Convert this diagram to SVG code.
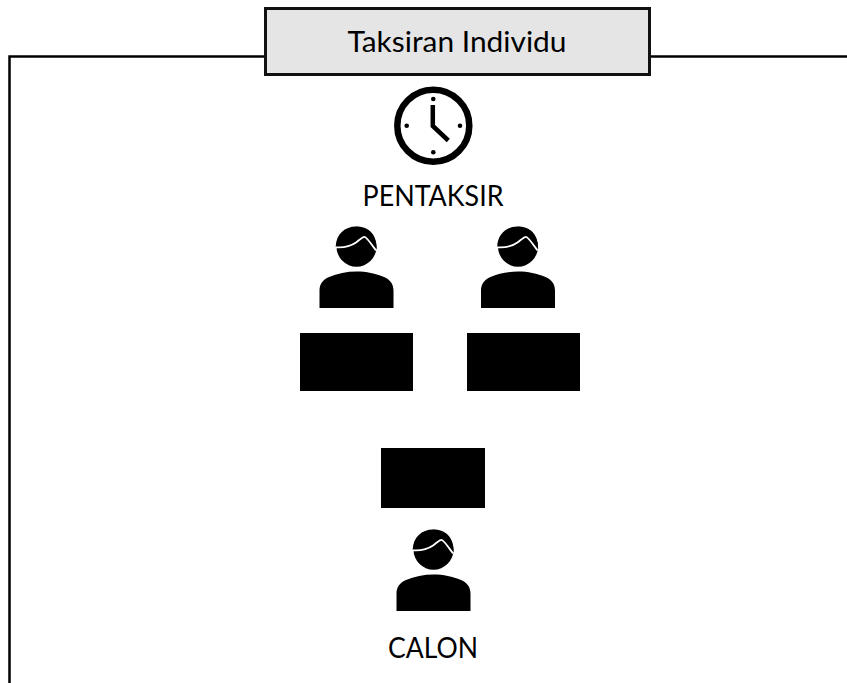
<svg xmlns="http://www.w3.org/2000/svg" width="847" height="683" viewBox="0 0 847 683">
<style>
.f{fill:none;stroke:#000;stroke-width:2.5}
.t{font-family:"Lato","Open Sans","Liberation Sans",sans-serif;font-size:28px;fill:#000;text-anchor:middle}
.k{fill:#000}
</style>
<defs>
<g id="person">
<path class="k" d="M319.500 308V290.500C319.500 284 323 279.500 329 277C337 273.500 347 271.500 356.500 271.500C366 271.500 376 273.500 384 277C390 279.500 393.500 284 393.500 290.500V308Z"/>
<circle class="k" cx="356.500" cy="246.700" r="20"/>
<path class="k" d="M335.700 247C336 234 345 226.500 356 226.500C368 226.500 376.500 233 376.700 249L370 245L364 238Z"/>
<path d="M335.700 247.300C345 248 351 246 356 242.500C360 239.500 362.500 236.800 364.500 236.800C366.500 236.800 370 242 376 250.500" fill="none" stroke="#fff" stroke-width="1.800"/>
</g>
</defs>
<g id="frame">
<path class="f" d="M9.500 683V56.500H265M650 56.500H847"/>
</g>
<g id="title">
<rect x="265.500" y="8.500" width="384" height="66" fill="#e5e5e5" stroke="#111" stroke-width="3"/>
<text class="t" x="457" y="51.500" textLength="219" lengthAdjust="spacingAndGlyphs">Taksiran Individu</text>
</g>
<g id="clock">
<circle cx="433.300" cy="125.700" r="36" fill="#fff" stroke="#000" stroke-width="6.500"/>
<path d="M432.800 105V126L448.300 140.500" fill="none" stroke="#000" stroke-width="4.500"/>
<circle class="k" cx="433.300" cy="99" r="2.300"/>
<circle class="k" cx="433.300" cy="152.300" r="2.300"/>
<circle class="k" cx="406.700" cy="125.700" r="2.300"/>
<circle class="k" cx="460" cy="125.700" r="2.300"/>
</g>
<g id="pentaksir-label"><text class="t" x="433" y="206" textLength="141" lengthAdjust="spacingAndGlyphs">PENTAKSIR</text></g>
<g id="assessor-1"><use href="#person"/></g>
<g id="assessor-2"><use href="#person" x="161.500"/></g>
<g id="desk-1"><rect class="k" x="300" y="333" width="113" height="58"/></g>
<g id="desk-2"><rect class="k" x="467" y="333" width="113" height="58"/></g>
<g id="desk-3"><rect class="k" x="381" y="448" width="104" height="60"/></g>
<g id="candidate"><use href="#person" x="77" y="303"/></g>
<g id="calon-label"><text class="t" x="433" y="658" textLength="90" lengthAdjust="spacingAndGlyphs">CALON</text></g>
<g id="connectors"></g>
</svg>
